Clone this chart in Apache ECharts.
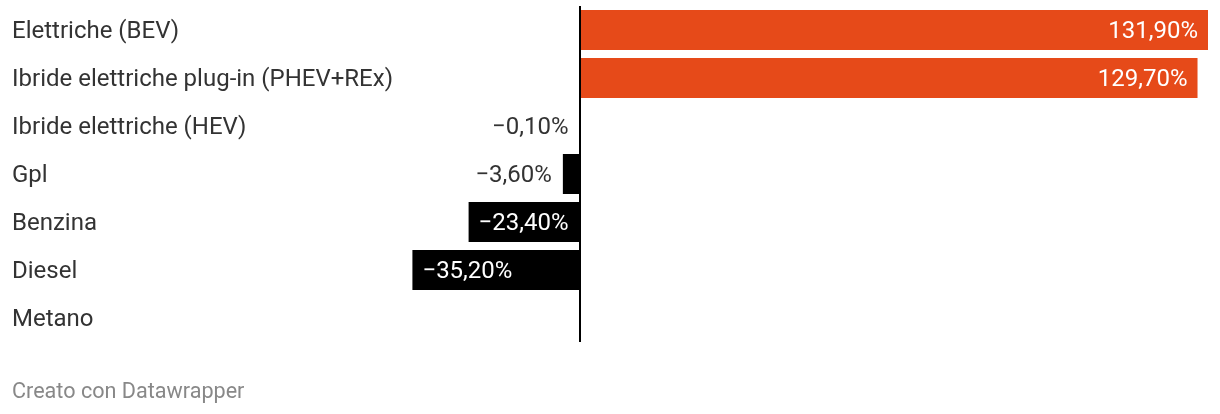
<!DOCTYPE html>
<html><head><meta charset="utf-8">
<script src="https://cdn.jsdelivr.net/npm/echarts@6/dist/echarts.min.js"></script>
<style>html,body{margin:0;padding:0;background:#fff}#c{width:1220px;height:414px}</style>
</head><body><div id="c"></div>
<script>
const categories = ["Elettriche (BEV)", "Ibride elettriche plug-in (PHEV+REx)", "Ibride elettriche (HEV)", "Gpl", "Benzina", "Diesel", "Metano"];
const values = [131.9, 129.7, -0.1, -3.6, -23.4, -35.2, null];
const labelInside = [true, true, false, false, true, true, false];
const footer = "Creato con Datawrapper";

function fmt(v) {
  let s = Math.abs(v).toFixed(2).replace('.', ',') + '%';
  return (v < 0 ? '\u2212' : '') + s;
}

const data = values.map((v, i) => {
  if (v === null) return { value: null };
  const pos = v >= 0;
  const inside = labelInside[i];
  return {
    value: v,
    itemStyle: { color: pos ? '#e64a19' : '#000000' },
    label: {
      show: true,
      position: inside ? (pos ? 'insideRight' : 'insideLeft') : (pos ? 'right' : 'left'),
      distance: inside ? 10 : 11,
      color: inside ? '#ffffff' : '#333333'
    }
  };
});

const chart = echarts.init(document.getElementById('c'), null, { renderer: 'canvas' });
chart.setOption({
  animation: false,
  textStyle: { fontFamily: 'Roboto' },
  title: {
    text: footer, left: 7, top: 377,
    textStyle: { fontFamily: 'Roboto', fontSize: 21.6, fontWeight: 'normal', color: '#888888' }
  },
  grid: { left: 12, right: 12, top: 6, height: 336, containLabel: false },
  xAxis: {
    type: 'value', min: -119.3, max: 131.9,
    axisLine: { show: false }, axisTick: { show: false },
    axisLabel: { show: false }, splitLine: { show: false }
  },
  yAxis: {
    type: 'category', data: categories, inverse: true,
    axisLine: { show: false, onZero: false }, axisTick: { show: false },
    axisLabel: {
      inside: true, margin: 0, align: 'left',
      formatter: v => '{a|' + v + '}',
      rich: { a: { fontSize: 24, color: '#333333', fontFamily: 'Roboto', padding: [4, 0, 0, 0] } }
    },
    splitLine: { show: false }
  },
  series: [{
    type: 'bar', data: data, barWidth: 40,
    label: { fontSize: 24, fontFamily: 'Roboto', offset: [0, 2], formatter: p => p.value == null ? '' : fmt(p.value) },
    markLine: {
      silent: true, symbol: 'none', label: { show: false },
      lineStyle: { color: '#000000', width: 2, type: 'solid' },
      data: [{ xAxis: 0 }]
    }
  }]
});
</script></body></html>
